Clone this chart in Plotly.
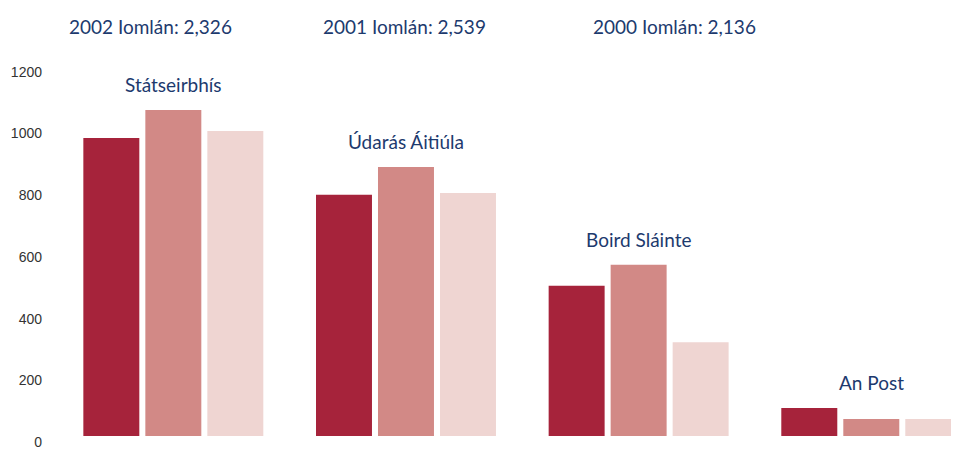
import plotly.graph_objects as go

categories = ["Státseirbhís", "Údarás Áitiúla", "Boird Sláinte", "An Post"]
years = ["2002", "2001", "2000"]
values_2002 = [966, 782, 487, 91]
values_2001 = [1057, 872, 555, 55]
values_2000 = [989, 788, 304, 55]
totals = ["2,326", "2,539", "2,136"]
y_ticks = [0, 200, 400, 600, 800, 1000, 1200]

colors = ["#A6233B", "#D28986", "#EFD5D2"]
navy = "#1D3A6E"
label_font = dict(family="Lato", size=19, color=navy)

fig = go.Figure()
for yr, vals, col in zip(years, [values_2002, values_2001, values_2000], colors):
    fig.add_trace(go.Bar(x=categories, y=vals, name=yr, marker=dict(color=col, line=dict(width=0))))

# category labels above each group
for i, cat in enumerate(categories):
    top = max(values_2002[i], values_2001[i], values_2000[i])
    fig.add_annotation(x=cat, y=top, text=cat, showarrow=False, yanchor="bottom",
                       yshift=12, font=label_font)

# totals at top
for yr, tot, px in zip(years, totals, [150, 404, 674.5]):
    fig.add_annotation(xref="paper", yref="paper", x=(px - 57) / 902, y=1.02,
                       text=f"{yr} Iomlán: {tot}", showarrow=False, xanchor="center",
                       yanchor="middle", font=label_font)

fig.update_layout(
    width=951, height=442,
    margin=dict(l=49, r=0, t=27, b=14),
    paper_bgcolor="white", plot_bgcolor="white",
    barmode="group", bargap=0.2006, bargroupgap=0.097,
    showlegend=False,
    xaxis=dict(range=[-0.5, 3.377], showticklabels=False, showgrid=False,
               zeroline=False, showline=False, ticks=""),
    yaxis=dict(range=[0, 1300], tickvals=y_ticks, showgrid=False, zeroline=False,
               showline=False, ticks="", ticklabelstandoff=14, ticklabelshift=6,
               tickfont=dict(family="Liberation Sans", size=14, color="#333333")),
)

fig.write_html("out.html")
